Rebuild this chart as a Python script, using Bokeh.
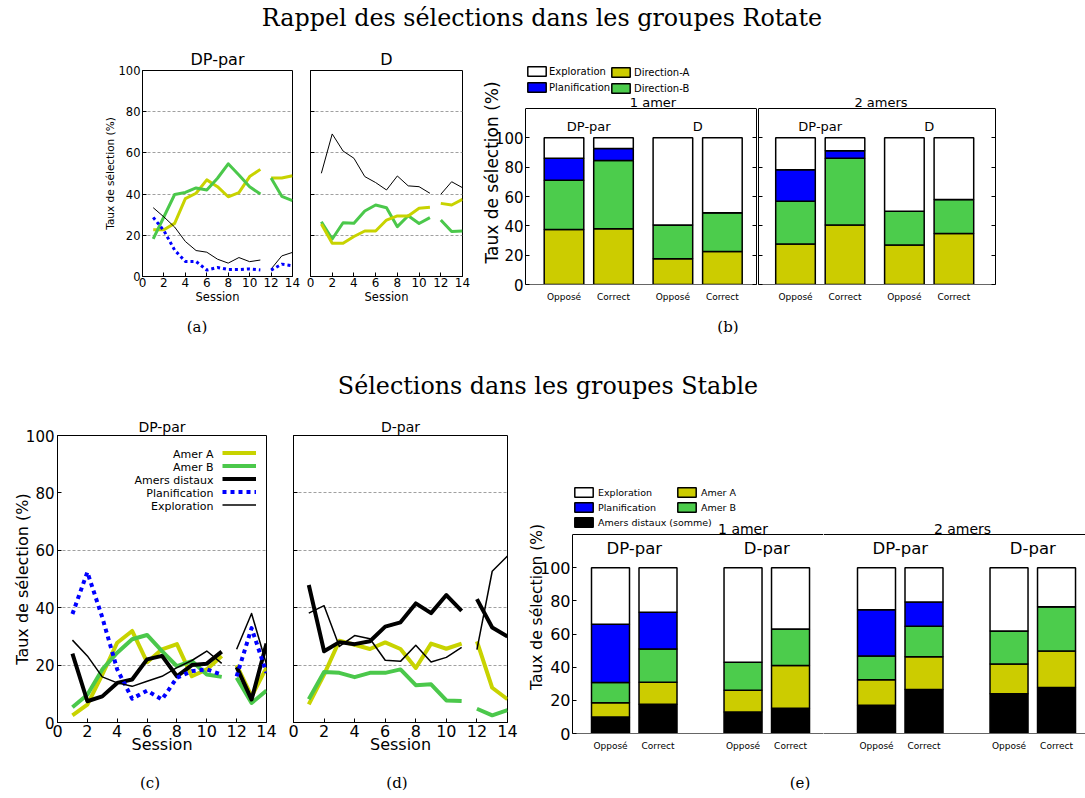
from bokeh.plotting import figure
from bokeh.layouts import column, row
from bokeh.models import (Div, Spacer, FixedTicker, Label, Legend, LegendItem,
                          ColumnDataSource, Span, Range1d, LinearAxis)
from bokeh.core.properties import value
from bokeh.embed import file_html
from bokeh.resources import INLINE

SANS = "DejaVu Sans"
SERIF = "DejaVu Serif"
YEL_LINE = "#c8d300"
GRN_LINE = "#4bc84b"
YEL_BAR = "#cccc00"
GRN_BAR = "#4ccc4c"
BLUE = "#0000ff"
GRID = "#a0a0a0"

# ---------------------------------------------------------------- data
sessions = list(range(1, 15))
first_block = 11  # sessions 1-11, then 12-14

# Rotate groups (a): DP-par
rot_dppar_dir_a = [22.7, 22.7, 25.8, 37.8, 40.4, 46.9, 43.6, 38.7, 40.7, 48.5, 52.0, 47.8, 47.8, 48.9]
rot_dppar_dir_b = [18.3, 29.0, 39.8, 40.8, 43.0, 42.0, 47.7, 54.7, 49.3, 43.6, 40.0, 47.8, 38.9, 36.8]
rot_dppar_plan = [28.7, 22.2, 12.8, 7.3, 7.3, 3.1, 4.4, 3.4, 3.4, 3.7, 3.2, 3.1, 6.0, 5.2]
rot_dppar_expl = [33.4, 28.9, 24.0, 17.0, 12.6, 11.8, 8.4, 6.5, 9.2, 7.2, 8.0, 3.6, 10.0, 11.7]
# Rotate groups: D
rot_d_dir_a = [25.5, 16.1, 16.1, 19.4, 22.1, 22.1, 27.4, 29.4, 29.4, 33.1, 33.6, 35.5, 34.7, 37.5]
rot_d_dir_b = [26.6, 18.2, 26.1, 25.8, 31.8, 34.7, 33.4, 24.2, 29.5, 25.7, 28.6, 27.4, 21.8, 22.1]
rot_d_expl = [50.1, 69.2, 60.9, 57.4, 48.5, 45.6, 42.0, 48.8, 44.0, 43.6, 40.4, 39.9, 46.0, 43.1]

# Stable groups (c): DP-par
stab_dppar_amer_a = [2.5, 6.2, 16.7, 27.8, 31.9, 21.0, 25.5, 27.3, 16.1, 18.5, 23.2, 20.0, 9.1, 19.1]
stab_dppar_amer_b = [5.3, 9.7, 18.5, 24.3, 29.0, 30.5, 24.9, 19.6, 21.4, 16.7, 15.9, 15.6, 6.8, 11.1]
stab_dppar_distal = [24.0, 7.4, 9.1, 13.8, 15.0, 22.0, 23.2, 16.1, 20.0, 20.5, 24.7, 19.3, 8.0, 27.5]
stab_dppar_plan = [37.8, 52.4, 36.6, 18.5, 8.3, 11.1, 8.0, 15.6, 17.9, 18.5, 16.7, 16.1, 32.9, 17.3]
stab_dppar_expl = [28.7, 23.2, 15.9, 13.8, 12.6, 14.4, 16.1, 19.1, 21.6, 24.9, 20.6, 25.5, 38.0, 20.2]
# Stable groups (d): D-par
stab_dpar_amer_a = [6.3, 16.7, 28.5, 27.1, 25.6, 27.9, 25.6, 19.0, 27.5, 25.7, 27.5, 28.3, 12.1, 8.1]
stab_dpar_amer_b = [8.1, 17.6, 17.3, 15.8, 17.3, 17.3, 18.5, 13.0, 13.3, 7.7, 7.5, 4.8, 2.5, 4.3]
stab_dpar_distal = [47.9, 24.8, 28.0, 27.3, 28.3, 33.4, 34.9, 41.5, 38.1, 44.4, 38.9, 43.0, 33.1, 30.0]
stab_dpar_expl = [38.1, 40.7, 26.5, 30.3, 29.2, 21.7, 21.3, 26.9, 21.1, 22.7, 26.2, 25.4, 52.7, 58.0]

# Bars: order = group 1 (Opposé, Correct), group 2 (Opposé, Correct)
conditions = ["Opposé", "Correct"]
rot_groups = ["DP-par", "D"]
stab_groups = ["DP-par", "D-par"]

rot1_dir_a = [37.5, 38.0, 17.5, 22.5]
rot1_dir_b = [33.5, 46.5, 23.0, 26.5]
rot1_plan = [15.0, 8.2, 0.0, 0.0]
rot1_expl = [14.0, 7.3, 59.5, 51.0]
rot2_dir_a = [27.6, 40.5, 26.9, 34.8]
rot2_dir_b = [29.2, 45.5, 23.1, 23.1]
rot2_plan = [21.5, 5.2, 0.0, 0.0]
rot2_expl = [21.7, 8.8, 50.0, 42.1]

stab1_distal = [10.0, 17.7, 13.0, 15.3]
stab1_amer_a = [8.5, 13.2, 13.1, 25.7]
stab1_amer_b = [12.2, 20.1, 16.9, 22.0]
stab1_plan = [35.2, 22.1, 0.0, 0.0]
stab1_expl = [34.1, 26.9, 57.0, 37.0]
stab2_distal = [17.1, 26.6, 24.0, 27.8]
stab2_amer_a = [15.3, 19.7, 17.9, 21.9]
stab2_amer_b = [14.3, 18.3, 19.9, 26.8]
stab2_plan = [27.9, 14.7, 0.0, 0.0]
stab2_expl = [25.4, 20.7, 38.2, 23.5]

YLAB = "Taux de sélection (%)"
YTICKS = [0, 20, 40, 60, 80, 100]


# ---------------------------------------------------------------- helpers
def style_axis(ax):
    ax.major_label_text_font = SANS
    ax.axis_label_text_font = SANS
    ax.axis_label_text_font_style = "normal"
    ax.major_tick_in = 4
    ax.major_tick_out = 0
    ax.minor_tick_line_color = None
    ax.axis_line_color = "black"
    ax.major_tick_line_color = "black"
    ax.major_label_text_color = "black"
    ax.axis_label_text_color = "black"


def base_fig(fw, fh, bl, br, bt, bb, xr, yr, title):
    p = figure(frame_width=fw, frame_height=fh,
               min_border_left=bl, min_border_right=br,
               min_border_top=bt, min_border_bottom=bb,
               x_range=xr, y_range=yr, title=title,
               output_backend="svg", toolbar_location=None)
    p.frame_align = False
    p.background_fill_color = "white"
    p.border_fill_color = "white"
    p.outline_line_color = "black"
    p.outline_line_alpha = 1
    p.outline_line_width = 1
    if p.title is not None:
        p.title.text_font = SANS
        p.title.text_font_style = "normal"
        p.title.align = "center"
        p.title.text_color = "black"
    p.xgrid.visible = False
    p.ygrid.visible = False
    for ax in (p.xaxis[0], p.yaxis[0]):
        style_axis(ax)
    return p


def line_panel(fw, fh, bl, br, bt, bb, title, tsize, tstand, toff,
               tick_x, tick_y, lab_x, lab_y, ylab, grid_ticks,
               xt_stand, xl_stand, yt_stand, yl_stand):
    p = base_fig(fw, fh, bl, br, bt, bb, Range1d(0, 14), Range1d(0, 100), title)
    p.title.text_font_size = f"{tsize}px"
    p.title.standoff = tstand
    p.title.offset = toff
    xa, ya = p.xaxis[0], p.yaxis[0]
    xa.ticker = FixedTicker(ticks=list(range(0, 15, 2)))
    ya.ticker = FixedTicker(ticks=YTICKS)
    xa.major_label_text_font_size = f"{tick_x}px"
    ya.major_label_text_font_size = f"{tick_y}px"
    xa.axis_label = "Session"
    xa.axis_label_text_font_size = f"{lab_x}px"
    xa.major_label_standoff = xt_stand
    xa.axis_label_standoff = xl_stand
    ya.major_label_standoff = yt_stand
    if ylab:
        ya.axis_label = ylab
        ya.axis_label_text_font_size = f"{lab_y}px"
        ya.axis_label_standoff = yl_stand
    else:
        ya.major_label_overrides = {t: "" for t in YTICKS}
        ya.major_label_standoff = 0
    p.ygrid.visible = True
    p.ygrid.ticker = FixedTicker(ticks=grid_ticks)
    p.ygrid.grid_line_color = GRID
    p.ygrid.grid_line_dash = "3 2"
    p.ygrid.grid_line_width = 1
    return p


def series(p, ys, color, width, dash="solid"):
    rs = []
    for lo, hi in ((0, first_block), (first_block, len(sessions))):
        rs.append(p.line(sessions[lo:hi], ys[lo:hi], line_color=color,
                         line_width=width, line_dash=dash, line_join="round"))
    return rs[0]


def bare_axis(ax):
    style_axis(ax)
    ax.bounds = (0, 120)
    ax.ticker = FixedTicker(ticks=YTICKS)
    ax.major_label_overrides = {t: "" for t in YTICKS}
    ax.major_label_standoff = 0


def bar_panel(fw, fh, bl, br, bt, bb, unit_px, first_px, ppy, step, title, toff,
              tsize, title_y, groups, group_size, group_y, names, stacks, colors,
              left, right, yt_size, yl_size, yl_stand):
    x0 = -first_px / unit_px
    x1 = x0 + fw / unit_px
    p = base_fig(fw, fh, bl, br, bt, bb, Range1d(x0, x1),
                 Range1d(0, fh / ppy), None)
    p.outline_line_color = None
    centers = [round(g * step + c, 3) for g in range(len(groups))
               for c in range(len(conditions))]
    src = ColumnDataSource(dict(x=centers, **dict(zip(names, stacks))))
    rs = p.vbar_stack(names, x="x", width=0.8, source=src,
                      fill_color=colors, line_color="black", line_width=1.5)
    xa, ya = p.xaxis[0], p.yaxis[0]
    xa.ticker = FixedTicker(ticks=centers)
    xa.major_label_overrides = {c: conditions[i % len(conditions)]
                                for i, c in enumerate(centers)}
    xa.major_label_text_font_size = "9px"
    xa.major_tick_in = 0
    xa.major_label_standoff = 7
    xa.axis_line_color = "#666666"
    if left == "full":
        ya.bounds = (0, 120)
        ya.ticker = FixedTicker(ticks=YTICKS)
        ya.major_label_text_font_size = f"{yt_size}px"
        ya.major_label_standoff = 2
        ya.axis_label = YLAB
        ya.axis_label_text_font_size = f"{yl_size}px"
        ya.axis_label_standoff = yl_stand
    elif left == "bare":
        bare_axis(ya)
    else:
        ya.visible = False
    if right:
        ra = LinearAxis()
        bare_axis(ra)
        p.add_layout(ra, "right")
    p.add_layout(Span(location=120, dimension="width",
                      line_color="black", line_width=1))
    p.add_layout(Label(x=(x0 + x1) / 2, x_offset=toff, y=title_y, text=title,
                       text_align="center", text_baseline="middle",
                       text_font=SANS, text_font_size=f"{tsize}px",
                       text_color="black"))
    for g, name in enumerate(groups):
        p.add_layout(Label(x=g * step + 0.5, y=group_y, text=name,
                           text_align="center", text_baseline="middle",
                           text_font=SANS, text_font_size=f"{group_size}px",
                           text_color="black"))
    return p, dict(zip(names, rs))


def box_legend(p, items, loc, font, gw, gh, spacing, standoff):
    lg = Legend(items=[LegendItem(label=value(t), renderers=[r]) for t, r in items],
                location=loc, orientation="vertical",
                glyph_width=gw, glyph_height=gh, label_height=gh,
                label_standoff=standoff, spacing=spacing, padding=0, margin=0,
                border_line_color=None, background_fill_alpha=0,
                label_text_font=SANS, label_text_font_size=font,
                label_text_color="black")
    p.add_layout(lg)


def text_div(txt, width, height, size, shift):
    html = (f'<div style="font-family:\'{SERIF}\';font-size:{size}px;line-height:1.2;'
            f'text-align:center;width:{width}px;position:relative;top:{shift}px;'
            f'margin:0;padding:0;white-space:nowrap;color:black">{txt}</div>')
    return Div(text=html, width=width, height=height, margin=0)


def gap(w, h):
    return Spacer(width=w, height=h, margin=0)


# ---------------------------------------------------------------- (a) Rotate line charts
fa = line_panel(150, 206, 42, 8, 34, 34, "DP-par", 16, 3, 0,
                12, 11.5, 11.5, 10.5, YLAB, [20, 40, 60, 80], 1, 0, 2, 0)
series(fa, rot_dppar_dir_a, YEL_LINE, 3)
series(fa, rot_dppar_dir_b, GRN_LINE, 3)
series(fa, rot_dppar_expl, "black", 1)
series(fa, rot_dppar_plan, BLUE, 3, "3 3")

fD = line_panel(152, 206, 10, 8, 34, 34, "D", 16, 3, -10,
                12, 11.5, 11.5, 10.5, None, [20, 40, 60, 80], 1, 0, 2, 0)
series(fD, rot_d_dir_b, GRN_LINE, 3)
series(fD, rot_d_dir_a, YEL_LINE, 3)
series(fD, rot_d_expl, "black", 1)

# ---------------------------------------------------------------- (b) Rotate bars
rot_names = ["dir_a", "dir_b", "plan", "expl"]
rot_colors = [YEL_BAR, GRN_BAR, BLUE, "white"]
PPY_B = 176 / 120
fb1, rb1 = bar_panel(231, 224, 55, 1, 24, 26, 49.5, 38.5, PPY_B, 2.2, "1 amer", 12,
                     13, 124.1, rot_groups, 13, 108, rot_names,
                     [rot1_dir_a, rot1_dir_b, rot1_plan, rot1_expl], rot_colors,
                     "full", True, 15, 17, -10)
fb2, rb2 = bar_panel(237, 224, 1, 5, 24, 26, 49.5, 37.0, PPY_B, 2.2, "2 amers", 4,
                     13, 124.1, rot_groups, 13, 108, rot_names,
                     [rot2_dir_a, rot2_dir_b, rot2_plan, rot2_expl], rot_colors,
                     "bare", True, 15, 17, 2)
box_legend(fb1, [("Exploration", rb1["expl"]), ("Planification", rb1["plan"])],
           (0, 191), "10px", 23, 12, 4, 1)
box_legend(fb1, [("Direction-A", rb1["dir_a"]), ("Direction-B", rb1["dir_b"])],
           (84, 190), "10px", 23, 12, 4, 2)

# ---------------------------------------------------------------- (c), (d) Stable line charts
fc = line_panel(209, 287, 49, 13, 31, 38, "DP-par", 14, 2, 0,
                16, 15, 16, 16, YLAB, [20, 40, 60], 2, -5, 3, -9)
r_a = series(fc, stab_dppar_amer_a, YEL_LINE, 4)
r_b = series(fc, stab_dppar_amer_b, GRN_LINE, 4)
r_dist = series(fc, stab_dppar_distal, "black", 4)
r_plan = series(fc, stab_dppar_plan, BLUE, 4, "4 4")
r_expl = series(fc, stab_dppar_expl, "black", 1.5)
legend_lines = Legend(items=[LegendItem(label=value(" "), renderers=[r])
                             for r in (r_a, r_b, r_dist, r_plan, r_expl)],
                      location=(165, 211), orientation="vertical",
                      glyph_width=34, glyph_height=13, label_height=13,
                      label_standoff=0, spacing=0, padding=0, margin=0,
                      border_line_color=None, background_fill_alpha=0,
                      label_text_font_size="11px")
fc.add_layout(legend_lines)
for txt, yy in zip(["Amer A", "Amer B", "Amers distaux", "Planification", "Exploration"],
                   [268.5, 255.5, 242.5, 229.5, 216.5]):
    fc.add_layout(Label(x=156, y=yy, x_units="screen", y_units="screen", text=txt,
                        text_align="right", text_baseline="middle",
                        text_font=SANS, text_font_size="11px", text_color="black"))

fd = line_panel(214, 287, 14, 13, 31, 38, "D-par", 14, 2, 0,
                16, 15, 16, 16, None, [20, 40, 60, 80], 2, -5, 3, -4)
series(fd, stab_dpar_amer_a, YEL_LINE, 4)
series(fd, stab_dpar_amer_b, GRN_LINE, 4)
series(fd, stab_dpar_distal, "black", 4)
series(fd, stab_dpar_expl, "black", 1.5)

# ---------------------------------------------------------------- (e) Stable bars
stab_names = ["distal", "amer_a", "amer_b", "plan", "expl"]
stab_colors = ["black", YEL_BAR, GRN_BAR, BLUE, "white"]
PPY_E = 199 / 120
fe1, re1 = bar_panel(251, 253, 52, 0, 76, 27, 47.5, 38.0, PPY_E, 2.79, "1 amer", 45,
                     14, 123.6, stab_groups, 16.5, 111.6, stab_names,
                     [stab1_distal, stab1_amer_a, stab1_amer_b, stab1_plan, stab1_expl],
                     stab_colors, "full", False, 16, 15.5, -9)
fe2, re2 = bar_panel(262, 253, 0, 0, 76, 27, 47.5, 53.0, PPY_E, 2.79, "2 amers", 8,
                     14, 123.6, stab_groups, 16.5, 111.6, stab_names,
                     [stab2_distal, stab2_amer_a, stab2_amer_b, stab2_plan, stab2_expl],
                     stab_colors, None, False, 16, 15.5, -1)
box_legend(fe1, [("Exploration", re1["expl"]), ("Planification", re1["plan"]),
                 ("Amers distaux (somme)", re1["distal"])],
           (0, 205), "9.5px", 23, 12, 3, 3)
box_legend(fe1, [("Amer A", re1["amer_a"]), ("Amer B", re1["amer_b"])],
           (103, 220), "9.5px", 23, 12, 3, 3)

# ---------------------------------------------------------------- layout
title1 = text_div("Rappel des sélections dans les groupes Rotate", 1084, 36, 23.8, 4)
title2 = text_div("Sélections dans les groupes Stable", 1056, 39, 23.8, 7)

rowA = row(title1)
rowB = row(gap(100, 274), fa, fD, fb1, fb2)
rowC = row(gap(157, 55), text_div("(a)", 80, 55, 15, 8),
           gap(451, 55), text_div("(b)", 80, 55, 15, 8))
rowD = row(gap(20, 39), title2)
rowE = row(gap(8, 356), fc, fd, fe1, fe2)
rowF = row(gap(110, 30), text_div("(c)", 80, 30, 15, 14),
           gap(167, 30), text_div("(d)", 80, 30, 15, 14),
           gap(323, 30), text_div("(e)", 80, 30, 15, 14))

p = column(rowA, rowB, rowC, rowD, rowE, rowF)

with open("out.html", "w") as f:
    f.write(file_html(p, INLINE))
